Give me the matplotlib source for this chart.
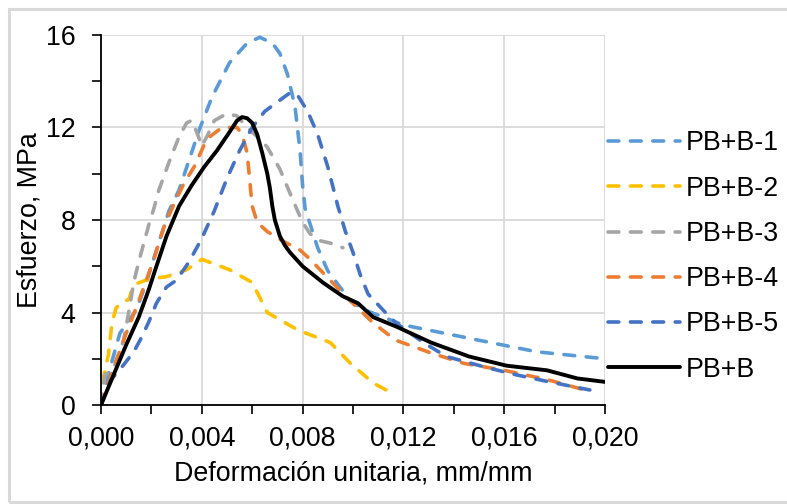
import matplotlib.pyplot as plt
from matplotlib.patches import Rectangle
from matplotlib.ticker import MultipleLocator, FuncFormatter

plt.rcParams['font.family'] = ['Liberation Sans', 'DejaVu Sans']

# strain (mm/mm) and stress (MPa)
x1 = [0, 0.00036, 0.00075, 0.0014, 0.0018, 0.0022, 0.0027, 0.0031, 0.0035, 0.0039, 0.0044, 0.0051,
      0.0058, 0.0063, 0.0068, 0.0071, 0.0074, 0.0077, 0.0079, 0.0080, 0.0081, 0.0086, 0.0090, 0.0099,
      0.0105, 0.0120, 0.0150, 0.0173, 0.0200]
y1 = [0, 1.6, 3.1, 4.1, 5.3, 6.7, 8.4, 9.3, 10.6, 11.9, 13.3, 14.8,
      15.65, 15.9, 15.65, 15.2, 14.3, 12.9, 11.0, 9.5, 8.5, 6.8, 5.8, 4.5,
      4.1, 3.46, 2.8, 2.3, 2.0]

x2 = [0, 0.0001, 0.0003, 0.0004, 0.00045, 0.0006, 0.0009, 0.0011, 0.0013, 0.0019, 0.0026, 0.0034,
      0.0040, 0.0051, 0.0060, 0.0066, 0.0078, 0.0091, 0.0099, 0.0108, 0.0117]
y2 = [0, 1.2, 2.2, 3.2, 3.6, 4.2, 4.5, 4.55, 5.2, 5.45, 5.55, 5.85,
      6.3, 5.85, 5.3, 4.0, 3.25, 2.7, 1.8, 0.95, 0.43]

x3 = [0, 0.00016, 0.0005, 0.0009, 0.0011, 0.0013, 0.0015, 0.0019, 0.0021, 0.0023, 0.0027, 0.0031,
      0.0034, 0.0036, 0.0038, 0.0040, 0.0042, 0.0045, 0.0050, 0.0054, 0.0058, 0.0063, 0.0066, 0.0071,
      0.0076, 0.0080, 0.0083, 0.0087, 0.0091, 0.0096]
y3 = [0, 1.3, 1.6, 2.8, 4.0, 5.3, 6.2, 7.8, 8.5, 9.3, 10.5, 11.6,
      12.2, 12.3, 11.8, 11.2, 11.6, 12.3, 12.6, 12.5, 12.0, 11.5, 11.15, 10.2,
      8.9, 7.9, 7.4, 7.1, 7.0, 6.8]

x4 = [0, 0.0005, 0.001, 0.0015, 0.0021, 0.0025, 0.0029, 0.0033, 0.0037, 0.0042, 0.0048, 0.0054,
      0.0056, 0.0058, 0.0060, 0.0062, 0.0066, 0.0072, 0.0079, 0.0083, 0.0090, 0.0099, 0.0108, 0.0117,
      0.0131, 0.0144, 0.0160, 0.0177, 0.0195]
y4 = [0, 1.6, 3.1, 4.5, 6.3, 7.7, 8.7, 9.6, 10.3, 11.5, 12.0, 12.0,
      11.7, 10.9, 8.6, 7.9, 7.5, 7.1, 6.7, 6.3, 5.5, 4.5, 3.55, 2.8,
      2.25, 1.8, 1.5, 1.1, 0.56]

x5 = [0, 0.0004, 0.0008, 0.0013, 0.0016, 0.0019, 0.0022, 0.0026, 0.0030, 0.0035, 0.0040, 0.0045,
      0.0050, 0.0055, 0.0060, 0.0065, 0.0070, 0.0075, 0.0078, 0.0082, 0.0086, 0.0090, 0.0094, 0.0097,
      0.0100, 0.0103, 0.0106, 0.0112, 0.0117, 0.0128, 0.0137, 0.0152, 0.0165, 0.0178, 0.0194]
y5 = [0, 1.1, 1.6, 2.3, 2.9, 3.6, 4.4, 5.1, 5.4, 6.2, 7.2, 8.4,
      9.8, 11.0, 12.0, 12.7, 13.1, 13.5, 13.4, 12.7, 11.7, 10.3, 8.6, 7.5,
      6.6, 5.6, 4.8, 4.1, 3.55, 2.7, 2.1, 1.65, 1.3, 1.0, 0.65]

xb = [0, 0.0005, 0.001, 0.0015, 0.0019, 0.0022, 0.0026, 0.0031, 0.0036, 0.0041, 0.0046, 0.0051, 0.0054,
      0.0056, 0.0058, 0.0060, 0.0062, 0.0064, 0.0066, 0.0067, 0.0068, 0.0069, 0.0071, 0.0073, 0.0075,
      0.0080, 0.0088, 0.0096, 0.0102, 0.0108, 0.0117, 0.0131, 0.0146, 0.0161, 0.0177, 0.0189, 0.020]
yb = [0, 1.3, 2.6, 3.8, 5.0, 6.0, 7.3, 8.6, 9.5, 10.3, 11.0, 11.8, 12.3,
      12.45, 12.4, 12.2, 11.7, 10.9, 10.0, 9.4, 8.6, 8.0, 7.3, 6.9, 6.6,
      6.0, 5.3, 4.7, 4.4, 3.8, 3.4, 2.7, 2.1, 1.7, 1.5, 1.15, 1.0]

names = ['PB+B-1', 'PB+B-2', 'PB+B-3', 'PB+B-4', 'PB+B-5', 'PB+B']
colors = ['#5B9BD5', '#FFC000', '#A5A5A5', '#ED7D31', '#4472C4', '#000000']
fs = 19.3

fig = plt.figure(figsize=(7.87, 5.04), dpi=100)
ax = fig.add_axes([0.1283, 0.1964, 0.6404, 0.7342])

series = [(x1, y1), (x2, y2), (x3, y3), (x4, y4), (x5, y5)]
for (xs, ys), name, c in zip(series, names[:5], colors[:5]):
    ax.plot(xs, ys, color=c, lw=2.6, linestyle=(0, (3, 3.2)),
            dash_capstyle='round', solid_joinstyle='round', label=name)
ax.plot(xb, yb, color='k', lw=2.8, solid_joinstyle='round', solid_capstyle='round', label=names[5])

ax.set_xlim(0, 0.020)
ax.set_ylim(0, 16)
ax.xaxis.set_major_locator(MultipleLocator(0.004))
ax.xaxis.set_minor_locator(MultipleLocator(0.002))
ax.yaxis.set_major_locator(MultipleLocator(4))
ax.yaxis.set_minor_locator(MultipleLocator(2))
ax.xaxis.set_major_formatter(FuncFormatter(lambda v, p: f'{v:.3f}'.replace('.', ',')))
ax.yaxis.set_major_formatter(FuncFormatter(lambda v, p: f'{v:.0f}'))
ax.tick_params(which='both', direction='out', length=6.5, width=1.2, colors='k', labelsize=fs)
ax.tick_params(axis='y', which='major', pad=12)
ax.tick_params(axis='x', which='major', pad=8)
ax.grid(True, which='major', color='#D9D9D9', lw=1.3)
ax.set_axisbelow(True)
for s in ['top', 'right']:
    ax.spines[s].set_visible(False)
for s in ['left', 'bottom']:
    ax.spines[s].set_linewidth(1.3)
    ax.spines[s].set_zorder(5)

ax.set_xlabel('Deformación unitaria, mm/mm', fontsize=fs, labelpad=7)
ax.set_ylabel('Esfuerzo, MPa', fontsize=fs, labelpad=2)

fig.legend(loc='center left', bbox_to_anchor=(0.772, 0.491), frameon=False, fontsize=fs,
           handlelength=2.7, handletextpad=0.22, labelspacing=0.72, borderpad=0, borderaxespad=0)

fig.patches.append(Rectangle((9 / 787, 2 / 504), 1.0, 1 - 11 / 504, transform=fig.transFigure,
                             fill=False, edgecolor='#D9D9D9', lw=2.2, clip_on=False))

fig.savefig('out.png', dpi=100)
